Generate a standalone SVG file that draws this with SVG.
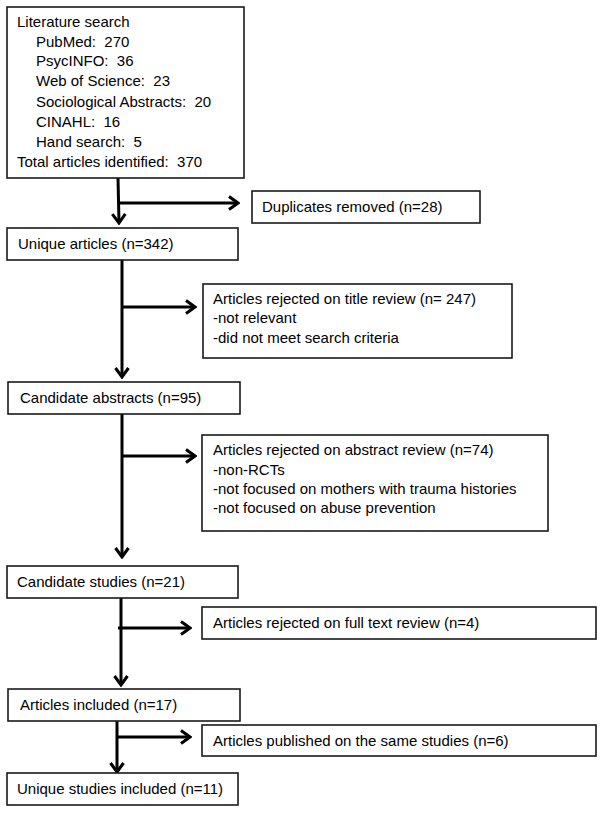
<svg xmlns="http://www.w3.org/2000/svg" width="604" height="813" viewBox="0 0 604 813">
<style>
  .box { fill: #ffffff; stroke: #1a1a1a; stroke-width: 1.6; }
  .t { font-family: "Liberation Sans", Arial, sans-serif; font-size: 15px; fill: #000000; white-space: pre; }
  .c { stroke: #000000; stroke-width: 3; fill: none; }
</style>
<defs>
  <marker id="arr" viewBox="0 0 12 16" refX="10" refY="8" markerWidth="12" markerHeight="16" markerUnits="userSpaceOnUse" orient="auto">
    <path d="M1,1.5 L10,8 L1,14.5" fill="none" stroke="#000000" stroke-width="3"/>
  </marker>
</defs>
<rect width="604" height="813" fill="#ffffff"/>

<g id="connectors">
  <path class="c" d="M118,178 L119,223" marker-end="url(#arr)"/>
  <path class="c" d="M119,203 L238,203" marker-end="url(#arr)"/>
  <path class="c" d="M122,260 L122,377" marker-end="url(#arr)"/>
  <path class="c" d="M122,307 L195,307" marker-end="url(#arr)"/>
  <path class="c" d="M122,414 L122,557" marker-end="url(#arr)"/>
  <path class="c" d="M122,456 L195,456" marker-end="url(#arr)"/>
  <path class="c" d="M121,598 L121,685" marker-end="url(#arr)"/>
  <path class="c" d="M118,628 L190,628" marker-end="url(#arr)"/>
  <path class="c" d="M117,721 L117,772" marker-end="url(#arr)"/>
  <path class="c" d="M117,737 L190,737" marker-end="url(#arr)"/>
</g>

<g id="literature-search">
  <rect class="box" x="7" y="7" width="237" height="171"/>
  <text class="t" x="17" y="27">Literature search</text>
  <text class="t" x="36" y="47" xml:space="preserve">PubMed:  270</text>
  <text class="t" x="36" y="66" xml:space="preserve">PsycINFO:  36</text>
  <text class="t" x="36" y="86" xml:space="preserve">Web of Science:  23</text>
  <text class="t" x="36" y="107" xml:space="preserve">Sociological Abstracts:  20</text>
  <text class="t" x="36" y="127" xml:space="preserve">CINAHL:  16</text>
  <text class="t" x="36" y="147" xml:space="preserve">Hand search:  5</text>
  <text class="t" x="17" y="167" xml:space="preserve">Total articles identified:  370</text>
</g>

<g id="duplicates">
  <rect class="box" x="252" y="191" width="228" height="32"/>
  <text class="t" x="262" y="212">Duplicates removed (n=28)</text>
</g>

<g id="unique-articles">
  <rect class="box" x="7" y="228" width="231" height="32"/>
  <text class="t" x="18" y="249">Unique articles (n=342)</text>
</g>

<g id="title-review">
  <rect class="box" x="203" y="284" width="309" height="74"/>
  <text class="t" x="213" y="304">Articles rejected on title review (n= 247)</text>
  <text class="t" x="213" y="323">-not relevant</text>
  <text class="t" x="213" y="343">-did not meet search criteria</text>
</g>

<g id="candidate-abstracts">
  <rect class="box" x="8" y="382" width="232" height="32"/>
  <text class="t" x="20" y="403">Candidate abstracts (n=95)</text>
</g>

<g id="abstract-review">
  <rect class="box" x="202" y="435" width="346" height="96"/>
  <text class="t" x="213" y="455">Articles rejected on abstract review (n=74)</text>
  <text class="t" x="213" y="475">-non-RCTs</text>
  <text class="t" x="213" y="494">-not focused on mothers with trauma histories</text>
  <text class="t" x="213" y="513">-not focused on abuse prevention</text>
</g>

<g id="candidate-studies">
  <rect class="box" x="7" y="566" width="231" height="32"/>
  <text class="t" x="17" y="587">Candidate studies (n=21)</text>
</g>

<g id="full-text-review">
  <rect class="box" x="202" y="607" width="394" height="32"/>
  <text class="t" x="213" y="628">Articles rejected on full text review (n=4)</text>
</g>

<g id="articles-included">
  <rect class="box" x="8" y="689" width="232" height="32"/>
  <text class="t" x="20" y="710">Articles included (n=17)</text>
</g>

<g id="same-studies">
  <rect class="box" x="202" y="725" width="394" height="31"/>
  <text class="t" x="213" y="746">Articles published on the same studies (n=6)</text>
</g>

<g id="unique-studies">
  <rect class="box" x="7" y="773" width="231" height="32"/>
  <text class="t" x="17" y="794">Unique studies included (n=11)</text>
</g>
</svg>
